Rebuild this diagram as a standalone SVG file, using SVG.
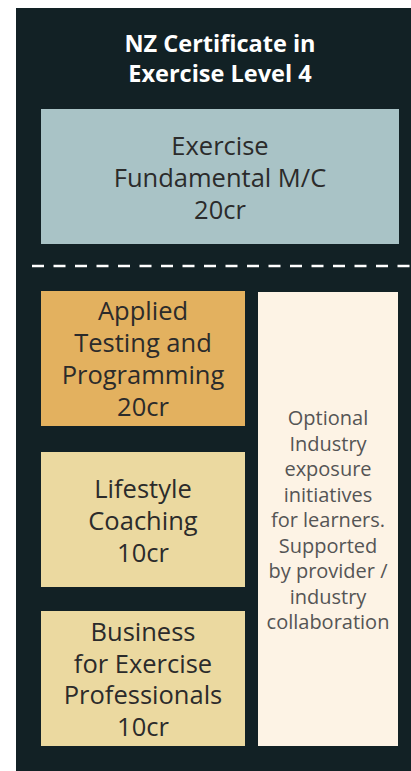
<svg xmlns="http://www.w3.org/2000/svg" width="411" height="771" viewBox="0 0 411 771">
  <style>
    .t { font-family: "Open Sans", "Liberation Sans", sans-serif; text-anchor: middle; fill: #2b2b2b; font-size: 25.5px; }
    .title { font-family: "Open Sans", "Liberation Sans", sans-serif; text-anchor: middle; fill: #ffffff; font-size: 23.5px; font-weight: bold; }
    .note { font-family: "Open Sans", "Liberation Sans", sans-serif; text-anchor: middle; fill: #555555; font-size: 20px; }
  </style>
  <rect x="0" y="0" width="411" height="771" fill="#ffffff"/>
  <rect id="panel" x="16" y="8" width="395" height="763" fill="#122125"/>
  <g id="title">
    <text class="title" x="220" y="52">NZ Certificate in</text>
    <text class="title" x="220" y="82">Exercise Level 4</text>
  </g>
  <g id="fundamental">
    <rect x="41" y="109" width="358" height="135" fill="#a9c3c6"/>
    <text class="t" x="220" y="155">Exercise</text>
    <text class="t" x="220" y="187">Fundamental M/C</text>
    <text class="t" x="220" y="219">20cr</text>
  </g>
  <g id="connectors">
    <line x1="32" y1="266" x2="411" y2="266" stroke="#ffffff" stroke-width="2.5" stroke-dasharray="12 9.5"/>
  </g>
  <g id="applied">
    <rect x="41" y="291" width="204" height="135" fill="#e3b15f"/>
    <text class="t" x="143" y="320">Applied</text>
    <text class="t" x="143" y="352">Testing and</text>
    <text class="t" x="143" y="384">Programming</text>
    <text class="t" x="143" y="416">20cr</text>
  </g>
  <g id="lifestyle">
    <rect x="41" y="452" width="204" height="135" fill="#ebd9a0"/>
    <text class="t" x="143" y="498">Lifestyle</text>
    <text class="t" x="143" y="530">Coaching</text>
    <text class="t" x="143" y="562">10cr</text>
  </g>
  <g id="business">
    <rect x="41" y="611" width="204" height="135" fill="#ebd9a0"/>
    <text class="t" x="143" y="641">Business</text>
    <text class="t" x="143" y="673">for Exercise</text>
    <text class="t" x="143" y="704">Professionals</text>
    <text class="t" x="143" y="736">10cr</text>
  </g>
  <g id="optional">
    <rect x="258" y="292" width="140" height="454" fill="#fdf3e5"/>
    <text class="note" x="328" y="425">Optional</text>
    <text class="note" x="328" y="451">Industry</text>
    <text class="note" x="328" y="476">exposure</text>
    <text class="note" x="328" y="502">initiatives</text>
    <text class="note" x="328" y="527">for learners.</text>
    <text class="note" x="328" y="553">Supported</text>
    <text class="note" x="328" y="578">by provider /</text>
    <text class="note" x="328" y="604">industry</text>
    <text class="note" x="328" y="629">collaboration</text>
  </g>
</svg>
